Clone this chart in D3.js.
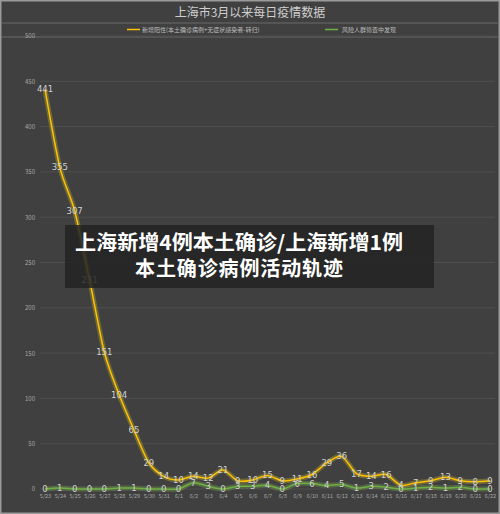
<!DOCTYPE html>
<html><head><meta charset="utf-8">
<script src="https://cdn.jsdelivr.net/npm/d3@7"></script>
<style>body{margin:0;background:#404040;}svg{display:block;}</style>
</head><body>
<script>
const dates = ["5/23","5/24","5/25","5/26","5/27","5/28","5/29","5/30","5/31","6/1","6/2","6/3","6/4","6/5","6/6","6/7","6/8","6/9","6/10","6/11","6/12","6/13","6/14","6/15","6/16","6/17","6/18","6/19","6/20","6/21","6/22"];
const newPositive = [441,355,307,231,151,104,65,29,14,10,14,12,21,9,10,15,9,11,16,29,36,17,14,16,4,7,9,13,9,8,9];
const riskScreening = [0,1,0,0,0,1,1,0,0,0,7,3,0,3,3,4,0,6,6,4,5,1,3,2,0,1,2,1,2,0,0];
const yTicks = [0,50,100,150,200,250,300,350,400,450,500];
const seriesNames = ["新增阳性(本土确诊病例+无症状感染者-转归)","风险人群筛查中发现"];
const title = "上海市3月以来每日疫情数据";
const bannerLines = ["上海新增4例本土确诊/上海新增1例","本土确诊病例活动轨迹"];

const W=500,H=514;
const svg=d3.select("body").append("svg").attr("width",W).attr("height",H);
const font="'Noto Sans CJK SC','Microsoft YaHei',sans-serif";
svg.append("rect").attr("width",W).attr("height",H).attr("fill","#404040");
svg.append("rect").attr("x",0.75).attr("y",0.75).attr("width",W-1.5).attr("height",H-1.5)
  .attr("fill","none").attr("stroke","#9a9a9a").attr("stroke-width",1.5);

svg.append("text").attr("x",250).attr("y",17).attr("text-anchor","middle")
  .attr("fill","#cfcfcf").attr("font-size",12).attr("font-family",font).text(title);

[23,37].forEach(yy=>svg.append("line").attr("x1",2).attr("x2",W-2).attr("y1",yy).attr("y2",yy)
  .attr("stroke","#6a6a6a").attr("stroke-width",1));

const x=d3.scalePoint().domain(dates).range([45,490]);
const y=d3.scaleLinear().domain([0,500]).range([489,36]);

const g=svg.append("g");
g.selectAll("line.grid").data(yTicks).join("line").attr("class","grid")
  .attr("x1",40).attr("x2",495).attr("y1",d=>y(d)).attr("y2",d=>y(d))
  .attr("stroke","#4e4e4e").attr("stroke-width",1);

const yAxis=d3.axisLeft(y).tickValues(yTicks).tickSize(0).tickPadding(0);
const ya=svg.append("g").attr("transform","translate(35,0)").call(yAxis);
ya.select(".domain").remove();
ya.selectAll("text").attr("fill","#a8a8a8").attr("font-size",6).attr("font-family",font);

const xAxis=d3.axisBottom(x).tickSize(0).tickPadding(0);
const xa=svg.append("g").attr("transform","translate(0,494)").call(xAxis);
xa.select(".domain").remove();
xa.selectAll("text").attr("fill","#a8a8a8").attr("font-size",5.5).attr("font-family",font);

const line=d3.line().x((d,i)=>x(dates[i])).y(d=>y(d)).curve(d3.curveCardinal.tension(0.2));

function drawSeries(vals,color,glow){
  svg.append("path").datum(vals).attr("d",line).attr("fill","none")
    .attr("stroke",glow).attr("stroke-width",5).attr("stroke-opacity",0.35).attr("stroke-linejoin","round");
  svg.append("path").datum(vals).attr("d",line).attr("fill","none")
    .attr("stroke",color).attr("stroke-width",1.5).attr("stroke-linejoin","round");
}
drawSeries(riskScreening,"#6fb043","#7fb050");
drawSeries(newPositive,"#ffc000","#c8b428");

function labels(vals){
  svg.append("g").selectAll("text").data(vals).join("text")
    .attr("x",(d,i)=>x(dates[i])).attr("y",d=>y(d)+3)
    .attr("text-anchor","middle").attr("fill","#d0d0d0").attr("font-size",8.5)
    .attr("font-family","'DejaVu Sans',sans-serif").text(d=>d);
}
labels(newPositive);
labels(riskScreening);

const leg=svg.append("g").attr("font-family",font).attr("font-size",6).attr("fill","#bdbdbd");
leg.append("line").attr("x1",127).attr("x2",140).attr("y1",29.5).attr("y2",29.5).attr("stroke","#ffc000").attr("stroke-width",1.5);
leg.append("text").attr("x",142).attr("y",31.5).text(seriesNames[0]);
leg.append("line").attr("x1",325).attr("x2",338).attr("y1",29.5).attr("y2",29.5).attr("stroke","#6fb043").attr("stroke-width",1.5);
leg.append("text").attr("x",342).attr("y",31.5).text(seriesNames[1]);

svg.append("rect").attr("x",65).attr("y",225).attr("width",369).attr("height",63)
  .attr("fill","#232323").attr("fill-opacity",0.85);
const bt=svg.append("g").attr("font-family",font).attr("font-weight","bold").attr("font-size",20).attr("fill","#ffffff").attr("text-anchor","middle");
bt.append("text").attr("x",239).attr("y",250).attr("textLength",328).attr("lengthAdjust","spacingAndGlyphs").text(bannerLines[0]);
bt.append("text").attr("x",239).attr("y",276).attr("textLength",208).attr("lengthAdjust","spacing").text(bannerLines[1]);
</script>
</body></html>
